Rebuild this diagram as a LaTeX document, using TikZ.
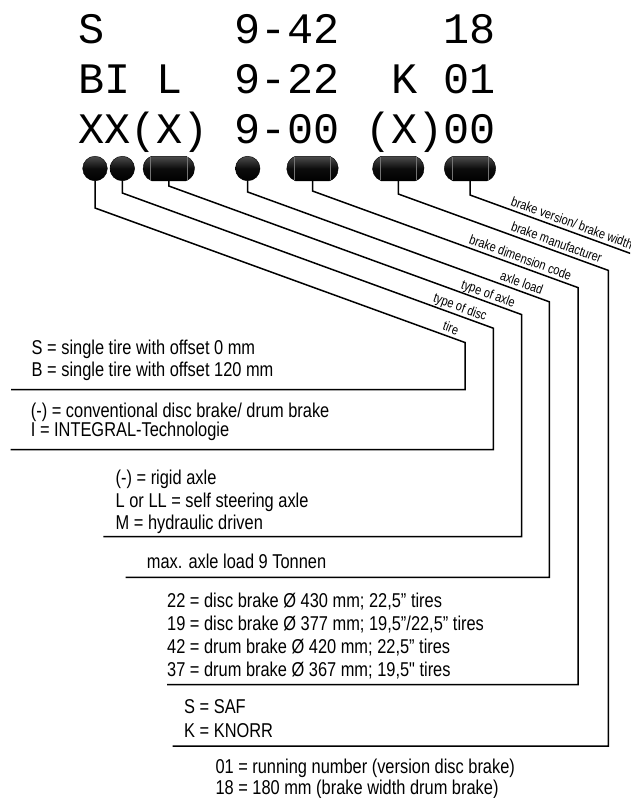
\documentclass[tikz,border=0pt]{standalone}
\usepackage{fontspec}
\setmainfont{Liberation Sans}
\newfontfamily\narrowfont[FakeStretch=0.82]{Liberation Sans}
\newfontfamily\codefont{Liberation Mono}
\usetikzlibrary{shapes.misc,calc}

\tikzset{
  conn/.style={line width=1.5pt, draw=black, line join=miter},
  blobshade/.style={draw=black, line width=0.4pt, top color=black!70, bottom color=black, middle color=black!95},
  dotblob/.style={circle, minimum size=24.6pt, inner sep=0pt, blobshade},
  capblob/.style={rounded rectangle, rounded rectangle arc length=140, minimum width=51.5pt, minimum height=24.6pt, inner sep=0pt, blobshade},
  capline/.style={line width=0.6pt, draw=black!55},
  codetext/.style={anchor=base west, inner sep=0pt, font=\fontsize{43.5}{50}\codefont},
  desc/.style={anchor=base west, inner sep=0pt, font=\fontsize{20}{24}\narrowfont},
  lab/.style={inner sep=0pt, font=\fontsize{13.4}{15}\narrowfont, rotate=-20, yshift=4pt},
}

\begin{document}
\begin{tikzpicture}[x=1pt, y=-1pt]
  \fill[white] (0,0) rectangle (630,798);
  \useasboundingbox (0,0) rectangle (630,798);
  \clip (0,0) rectangle (630,798);

  % code rows
  \node[codetext] (r1) at (78,43.5) {S~~~~~9-42~~~~18};
  \node[codetext] (r2) at (78,93) {BI~L~~9-22~~K~01};
  \node[codetext] (r3) at (78,143) {XX(X)~9-00~(X)00};

  % blobs
  \node[dotblob] (t1) at (95,168.5) {};
  \node[dotblob] (t2) at (122.3,168.5) {};
  \node[capblob] (c1) at (168.8,168.5) {};
  \node[dotblob] (t3) at (247.7,168.5) {};
  \node[capblob] (c2) at (312.5,168.5) {};
  \node[capblob] (c3) at (398.3,168.5) {};
  \node[capblob] (c4) at (470,168.5) {};
  \foreach \c in {c1,c2,c3,c4} {
    \draw[capline] ($(\c.center)+(-18.1,-11.6)$) -- ($(\c.center)+(-18.1,11.6)$);
    \draw[capline] ($(\c.center)+(18.1,-11.6)$) -- ($(\c.center)+(18.1,11.6)$);
  }

  % routing points
  \coordinate (b1) at (95,208);     \coordinate (k1) at (465,342.5);   \coordinate (e1) at (11,389.5);
  \coordinate (b2) at (122.3,193);  \coordinate (k2) at (493.3,328.2); \coordinate (e2) at (10.7,449.5);
  \coordinate (b3) at (168.8,186);  \coordinate (k3) at (521.7,314.6); \coordinate (e3) at (103.3,536.7);
  \coordinate (b4) at (247.7,192);  \coordinate (k4) at (549.3,301.8); \coordinate (e4) at (125.5,577.3);
  \coordinate (b5) at (312.5,191);  \coordinate (k5) at (578,287.6);   \coordinate (e5) at (167,684.7);
  \coordinate (b6) at (398.3,194);  \coordinate (k6) at (608.3,270.4); \coordinate (e6) at (172.7,746);
  \coordinate (b7) at (470,195);    \coordinate (k7) at (660,264.2);

  % connectors
  \draw[conn] (t1.south) -- (b1) -- (k1) |- (e1);
  \draw[conn] (t2.south) -- (b2) -- (k2) |- (e2);
  \draw[conn] (c1.south) -- (b3) -- (k3) |- (e3);
  \draw[conn] (t3.south) -- (b4) -- (k4) |- (e4);
  \draw[conn] (c2.south) -- (b5) -- (k5) |- (e5);
  \draw[conn] (c3.south) -- (b6) -- (k6) |- (e6);
  \draw[conn] (c4.south) -- (b7) -- (k7);

  % sloped labels
  \node[lab, anchor=base east] (l1) at ($(k1)!10.3pt!(b1)$) {tire};
  \node[lab, anchor=base east] (l2) at ($(k2)!10.3pt!(b2)$) {type of disc};
  \node[lab, anchor=base east] (l3) at ($(k3)!10.3pt!(b3)$) {type of axle};
  \node[lab, anchor=base east] (l4) at ($(k4)!10.3pt!(b4)$) {axle load};
  \node[lab, anchor=base east] (l5) at ($(k5)!10.3pt!(b5)$) {brake dimension code};
  \node[lab, anchor=base east] (l6) at ($(k6)!10.3pt!(b6)$) {brake manufacturer};
  \node[lab, anchor=base west] (l7) at ($(b7)!41pt!(k7)$) {brake version/ brake width};

  % description blocks
  \node[desc] (d1a) at (31.5,354.5) {S = single tire with offset 0 mm};
  \node[desc] (d1b) at (31.5,376.7) {B = single tire with offset 120 mm};

  \node[desc] (d2a) at (30.7,417.5) {(-) = conventional disc brake/ drum brake};
  \node[desc] (d2b) at (30.7,436.5) {I = INTEGRAL-Technologie};

  \node[desc] (d3a) at (115.5,484.5) {(-) = rigid axle};
  \node[desc] (d3b) at (115.5,507) {L or LL = self steering axle};
  \node[desc] (d3c) at (115.5,529.3) {M = hydraulic driven};

  \node[desc] (d4a) at (146.7,568.7) {max. axle load 9 Tonnen};

  \node[desc] (d5a) at (167,607.3) {22 = disc brake Ø 430 mm; 22,5” tires};
  \node[desc] (d5b) at (167,630.5) {19 = disc brake Ø 377 mm; 19,5”/22,5” tires};
  \node[desc] (d5c) at (167,653.3) {42 = drum brake Ø 420 mm; 22,5” tires};
  \node[desc] (d5d) at (167,676.5) {37 = drum brake Ø 367 mm; 19,5" tires};

  \node[desc] (d6a) at (184,713.3) {S = SAF};
  \node[desc] (d6b) at (184,737.3) {K = KNORR};

  \node[desc] (d7a) at (215.3,773.5) {01 = running number (version disc brake)};
  \node[desc] (d7b) at (215.3,794.5) {18 = 180 mm (brake width drum brake)};
\end{tikzpicture}
\end{document}
